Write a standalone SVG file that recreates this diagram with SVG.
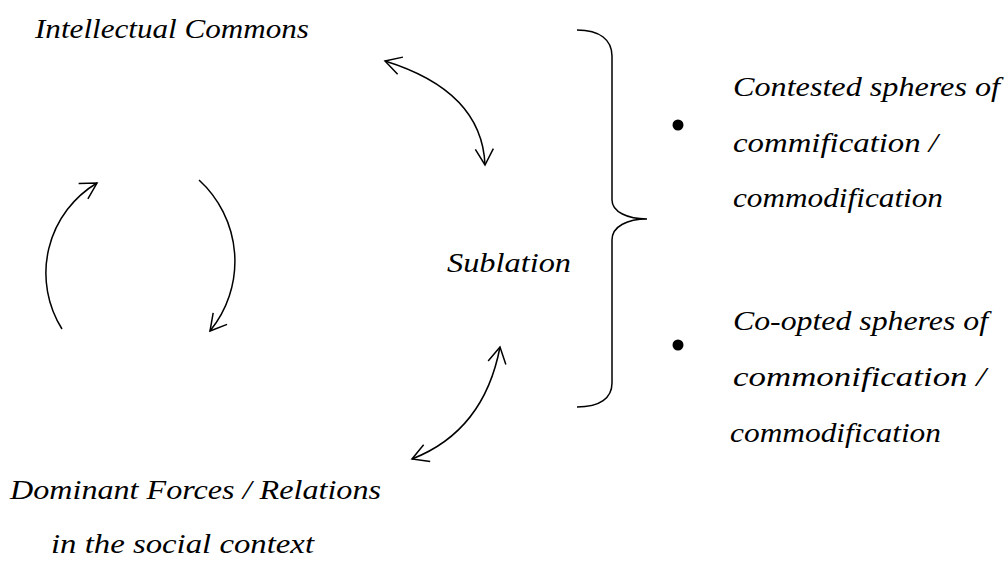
<svg xmlns="http://www.w3.org/2000/svg" width="1008" height="562" viewBox="0 0 1008 562">
<style>
  .t { font-family: "Liberation Serif", "Times New Roman", serif; font-style: italic; font-size: 28px; fill: #000; }
  .ln { fill: none; stroke: #000; stroke-width: 1.5; }
</style>
<defs>
  <marker id="arr" markerUnits="userSpaceOnUse" markerWidth="30" markerHeight="30" viewBox="-20 -15 25 30" refX="0" refY="0" orient="auto-start-reverse">
    <path d="M-16,-9 L0,0 L-16,9" fill="none" stroke="#000" stroke-width="1.5"/>
  </marker>
</defs>
<rect width="1008" height="562" fill="#fff"/>
<g id="intellectual-commons">
  <text class="t" x="35" y="38" textLength="274" lengthAdjust="spacingAndGlyphs">Intellectual Commons</text>
</g>
<g id="sublation">
  <text class="t" x="447" y="272" textLength="124" lengthAdjust="spacingAndGlyphs">Sublation</text>
</g>
<g id="dominant-forces">
  <text class="t" x="10" y="499" textLength="371" lengthAdjust="spacingAndGlyphs">Dominant Forces / Relations</text>
  <text class="t" x="51" y="553" textLength="263" lengthAdjust="spacingAndGlyphs">in the social context</text>
</g>
<g id="brace">
  <path class="ln" d="M577,30 C600,30 612,40 612,56 L612,200 C612,212 628,219 647,219 C628,219 612,226 612,240 L612,383 C612,398 600,407 577,407"/>
</g>
<g id="contested">
  <circle cx="678" cy="125" r="5.5" fill="#000"/>
  <text class="t" x="733" y="96" textLength="267" lengthAdjust="spacingAndGlyphs">Contested spheres of</text>
  <text class="t" x="733" y="152" textLength="205" lengthAdjust="spacingAndGlyphs">commification /</text>
  <text class="t" x="733" y="207" textLength="210" lengthAdjust="spacingAndGlyphs">commodification</text>
</g>
<g id="coopted">
  <circle cx="678" cy="345" r="5.5" fill="#000"/>
  <text class="t" x="733" y="330" textLength="255" lengthAdjust="spacingAndGlyphs">Co-opted spheres of</text>
  <text class="t" x="733" y="386" textLength="253" lengthAdjust="spacingAndGlyphs">commonification /</text>
  <text class="t" x="730" y="442" textLength="211" lengthAdjust="spacingAndGlyphs">commodification</text>
</g>
<g id="connectors">
  <path class="ln" d="M385,61 Q482,91 485,165" marker-start="url(#arr)" marker-end="url(#arr)"/>
  <path class="ln" d="M500,347 Q484,431 412,459" marker-start="url(#arr)" marker-end="url(#arr)"/>
  <path class="ln" d="M62,329 A105,105 0 0 1 97,183" marker-end="url(#arr)"/>
  <path class="ln" d="M199,180 A110,110 0 0 1 210,331" marker-end="url(#arr)"/>
</g>
</svg>
